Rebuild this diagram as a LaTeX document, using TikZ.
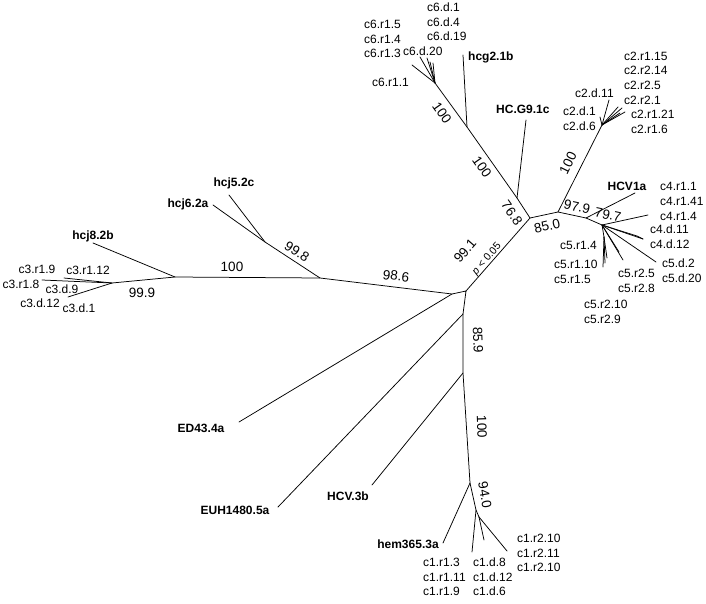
\documentclass[tikz,border=0pt]{standalone}
\usepackage{fontspec}
\setmainfont{Liberation Sans}
\begin{document}
\begin{tikzpicture}[x=1pt,y=-1pt,
  edge/.style={line width=0.75pt, line cap=round, line join=round},
  lbl/.style={font=\fontsize{12}{14.6}\selectfont, inner sep=0pt, align=left, anchor=west},
  blbl/.style={font=\fontsize{12}{14.6}\selectfont\bfseries, inner sep=0pt},
  bsv/.style={font=\fontsize{13.5}{15}\selectfont, inner sep=0pt},
  pval/.style={font=\fontsize{10.5}{12}\selectfont, inner sep=0pt}]
\useasboundingbox (0,0) rectangle (706,604);
% ---- junctions and leaf ends
\coordinate (c3) at (112,283);
\coordinate (c3r18) at (42,280);
\coordinate (c3r19) at (64,278);
\coordinate (c3d) at (68,297);
\coordinate (h8) at (175,277);
\coordinate (h8e) at (93,243);
\coordinate (hj) at (320,278);
\coordinate (h65) at (265,242);
\coordinate (h6e) at (213,205);
\coordinate (h5e) at (229,195);
\coordinate (J1) at (452,294);
\coordinate (EDe) at (239,422);
\coordinate (J2) at (466,291);
\coordinate (J3) at (530,218);
\coordinate (G9) at (517,198);
\coordinate (G9e) at (526,120);
\coordinate (hcg) at (467,127);
\coordinate (hcge) at (463,55);
\coordinate (c6) at (435,83);
\coordinate (c6a) at (412,65);
\coordinate (c6b) at (420,57);
\coordinate (c6c) at (427,58);
\coordinate (c6d) at (430,62);
\coordinate (c6e) at (433,63);
\coordinate (J4) at (558,212);
\coordinate (c2) at (602,125);
\coordinate (c2a) at (609,100);
\coordinate (c2b) at (618,107);
\coordinate (c2c) at (622,108);
\coordinate (c2d) at (625,112);
\coordinate (c2e) at (620,113);
\coordinate (c2f) at (600,117);
\coordinate (J5) at (586,218);
\coordinate (HCVe) at (635,193);
\coordinate (J6) at (602,225);
\coordinate (c4r) at (648,215);
\coordinate (c4d) at (643,239);
\coordinate (c4d2) at (637,236);
\coordinate (c5d) at (656,262);
\coordinate (c5r2) at (623,260);
\coordinate (c5r2b) at (619,252);
\coordinate (c5r1s) at (604,237);
\coordinate (c5r1a) at (603,267);
\coordinate (c5r1b) at (605,263);
\coordinate (c5r1c) at (607,258);
\coordinate (E) at (463,314);
\coordinate (EUHe) at (278,507);
\coordinate (H3) at (463,373);
\coordinate (H3e) at (372,485);
\coordinate (K) at (470,483);
\coordinate (heme) at (443,543);
\coordinate (L) at (476,510);
\coordinate (L2) at (479,517);
\coordinate (c1r1) at (472,552);
\coordinate (c1d) at (484,540);
\coordinate (c1r2) at (507,551);
% ---- edges
\draw[edge] (c3r18) -- (c3) -- (h8) -- (hj) -- (J1) -- (J2) -- (E) -- (H3) -- (K) -- (L) -- (L2);
\draw[edge] (c3) -- (c3r19);
\draw[edge] (c3) -- (c3d);
\draw[edge] (h8) -- (h8e);
\draw[edge] (hj) -- (h65) -- (h6e);
\draw[edge] (h65) -- (h5e);
\draw[edge] (J1) -- (EDe);
\draw[edge] (J2) -- (J3) -- (G9) -- (hcg) -- (c6) -- (c6a);
\draw[edge] (G9) -- (G9e);
\draw[edge] (hcg) -- (hcge);
\draw[edge] (c6) -- (c6b);
\draw[edge] (c6) -- (c6c);
\draw[edge] (c6) -- (c6d);
\draw[edge] (c6) -- (c6e);
\draw[edge] (J3) -- (J4) -- (c2) -- (c2a);
\draw[edge] (c2) -- (c2b);
\draw[edge] (c2) -- (c2c);
\draw[edge] (c2) -- (c2d);
\draw[edge] (c2) -- (c2e);
\draw[edge] (c2) -- (c2f);
\draw[edge] (J4) -- (J5) -- (HCVe);
\draw[edge] (J5) -- (J6) -- (c4r);
\draw[edge] (J6) -- (c4d);
\draw[edge] (J6) -- (c4d2) -- (c4d);
\draw[edge] (J6) -- (c5d);
\draw[edge] (J6) -- (c5r2);
\draw[edge] (J6) -- (c5r2b);
\draw[edge] (J6) -- (c5r1s);
\draw[edge] (c5r1s) -- (c5r1a);
\draw[edge] (c5r1s) -- (c5r1b);
\draw[edge] (c5r1s) -- (c5r1c);
\draw[edge] (E) -- (EUHe);
\draw[edge] (H3) -- (H3e);
\draw[edge] (K) -- (heme);
\draw[edge] (L) -- (c1r1);
\draw[edge] (L2) -- (c1d);
\draw[edge] (L2) -- (c1r2);
% ---- bold strain labels
\node[blbl] (nh8) at (93,236) {hcj8.2b};
\node[blbl] (nh6) at (188,204) {hcj6.2a};
\node[blbl] (nh5) at (234,183) {hcj5.2c};
\node[blbl] (ned) at (201,428) {ED43.4a};
\node[blbl] (neuh) at (235,510) {EUH1480.5a};
\node[blbl] (nh3) at (348,496) {HCV.3b};
\node[blbl] (nhem) at (408,544) {hem365.3a};
\node[blbl, anchor=west] (nhcg) at (468,57) {hcg2.1b};
\node[blbl, anchor=west] (ng9) at (496,109) {HC.G9.1c};
\node[blbl] (nhcv) at (627,186) {HCV1a};
% ---- leaf labels
\node[lbl, anchor=center] (l3a) at (37,269) {c3.r1.9};
\node[lbl, anchor=center] (l3b) at (88,270) {c3.r1.12};
\node[lbl, anchor=center] (l3c) at (21,284) {c3.r1.8};
\node[lbl, anchor=center] (l3d) at (62,289) {c3.d.9};
\node[lbl, anchor=center] (l3e) at (40,303) {c3.d.12};
\node[lbl, anchor=center] (l3f) at (79,308) {c3.d.1};
\node[lbl] (l6a) at (427,22) {c6.d.1\\c6.d.4\\c6.d.19};
\node[lbl] (l6b) at (364,39) {c6.r1.5\\c6.r1.4\\c6.r1.3};
\node[lbl] (l6c) at (403,51) {c6.d.20};
\node[lbl] (l6d) at (372,82) {c6.r1.1};
\node[lbl] (l2a) at (624,78) {c2.r1.15\\c2.r2.14\\c2.r2.5\\c2.r2.1};
\node[lbl] (l2b) at (631,122) {c2.r1.21\\c2.r1.6};
\node[lbl] (l2c) at (575,93) {c2.d.11};
\node[lbl] (l2d) at (563,118.5) {c2.d.1\\c2.d.6};
\node[lbl] (l4a) at (660,201.5) {c4.r1.1\\c4.r1.41\\c4.r1.4};
\node[lbl] (l4b) at (650,237) {c4.d.11\\c4.d.12};
\node[lbl] (l5a) at (662,271) {c5.d.2\\c5.d.20};
\node[lbl] (l5b) at (618,281) {c5.r2.5\\c5.r2.8};
\node[lbl] (l5c) at (584,312) {c5.r2.10\\c5.r2.9};
\node[lbl] (l5d) at (560,245) {c5.r1.4};
\node[lbl] (l5e) at (554,272) {c5.r1.10\\c5.r1.5};
\node[lbl] (l1a) at (423,577) {c1.r1.3\\c1.r1.11\\c1.r1.9};
\node[lbl] (l1b) at (473,577) {c1.d.8\\c1.d.12\\c1.d.6};
\node[lbl] (l1c) at (517,553) {c1.r2.10\\c1.r2.11\\c1.r2.10};
% ---- bootstrap values
\node[bsv] (b1) at (142,293) {99.9};
\node[bsv] (b2) at (232,267) {100};
\node[bsv, rotate=-33] (b3) at (297,252) {99.8};
\node[bsv, rotate=-7] (b4) at (396,276) {98.6};
\node[bsv, rotate=49] (b5) at (465,251) {99.1};
\node[pval, rotate=49] (b5p) at (487,259) {\textit{p} < 0.05};
\node[bsv, rotate=-88] (b6) at (478,340) {85.9};
\node[bsv, rotate=-88] (b7) at (482,427) {100};
\node[bsv, rotate=-80] (b8) at (485,495) {94.0};
\node[bsv, rotate=-55] (b9) at (442,113) {100};
\node[bsv, rotate=-55] (b10) at (482,167) {100};
\node[bsv, rotate=-55] (b11) at (512,213) {76.8};
\node[bsv, rotate=13] (b12) at (547,226) {85.0};
\node[bsv, rotate=64] (b13) at (568,163) {100};
\node[bsv, rotate=-12] (b14) at (577,207) {97.9};
\node[bsv, rotate=-12] (b15) at (608,215) {79.7};
\end{tikzpicture}
\end{document}
